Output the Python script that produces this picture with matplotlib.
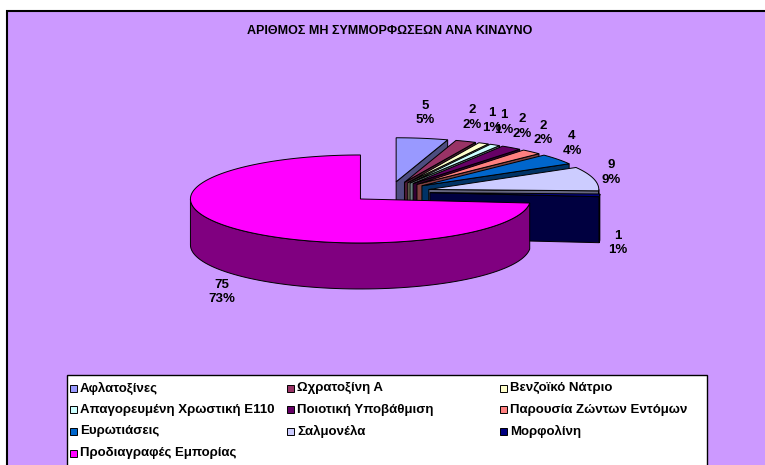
import numpy as np
import matplotlib.pyplot as plt
from matplotlib.patches import Polygon, Rectangle
from matplotlib.colors import to_rgb

plt.rcParams['font.family'] = ['Liberation Sans', 'DejaVu Sans']

title = "ΑΡΙΘΜΟΣ ΜΗ ΣΥΜΜΟΡΦΩΣΕΩΝ ΑΝΑ ΚΙΝΔΥΝΟ"
categories = ["Αφλατοξίνες", "Ωχρατοξίνη Α", "Βενζοϊκό Νάτριο",
              "Απαγορευμένη Χρωστική Ε110", "Ποιοτική Υποβάθμιση",
              "Παρουσία Ζώντων Εντόμων", "Ευρωτιάσεις", "Σαλμονέλα",
              "Μορφολίνη", "Προδιαγραφές Εμπορίας"]
values = [5, 2, 1, 1, 2, 2, 4, 9, 1, 75]
pct_labels = ["5%", "2%", "1%", "1%", "2%", "2%", "4%", "9%", "1%", "73%"]
colors = ["#9999FF", "#993366", "#FFFFCC", "#CCFFFF", "#660066",
          "#FF8080", "#0066CC", "#CCCCFF", "#000080", "#FF00FF"]

W, H = 765, 465
fig = plt.figure(figsize=(W / 100, H / 100), dpi=100)
ax = fig.add_axes([0, 0, 1, 1])
ax.set_xlim(0, W)
ax.set_ylim(H, 0)
ax.axis('off')

# chart area (runs off the right and bottom edge)
ax.add_patch(Rectangle((7, 11), 800, 500, fc='#CC99FF', ec='black', lw=1.5))
ax.text(390, 31, title, ha='center', va='center', fontsize=9, fontweight='bold')

# 3d pie layout (pixels)
cx, cy = 390, 192
rx, ry = 170, 44
depth = 46
explode = 40


def pt(c, t, z=0.0):
    return (c[0] + rx * np.sin(t), c[1] - ry * np.cos(t) + z)


def shade(col):
    return tuple(0.5 * v for v in to_rgb(col))


total = float(sum(values))
edges = np.concatenate([[0], np.cumsum(values)]) / total * 2 * np.pi
slices = []
for i, v in enumerate(values):
    a, b = edges[i], edges[i + 1]
    m = (a + b) / 2
    c = (cx + explode * np.sin(m), cy - explode * ry / rx * np.cos(m))
    slices.append((c[1], i, a, b, m, c))

ew = 0.7
for _, i, a, b, m, c in sorted(slices):
    col = colors[i]
    dark = shade(col)
    # radial faces
    if np.sin(a) < -1e-6:
        p = [c, pt(c, a), pt(c, a, depth), (c[0], c[1] + depth)]
        ax.add_patch(Polygon(p, closed=True, fc=dark, ec='black', lw=ew))
    if np.sin(b) > 1e-6:
        p = [c, pt(c, b), pt(c, b, depth), (c[0], c[1] + depth)]
        ax.add_patch(Polygon(p, closed=True, fc=dark, ec='black', lw=ew))
    # outer side
    t1, t2 = max(a, np.pi / 2), min(b, 3 * np.pi / 2)
    if t2 > t1:
        ts = np.linspace(t1, t2, 80)
        top = [pt(c, t) for t in ts]
        bot = [pt(c, t, depth) for t in ts[::-1]]
        ax.add_patch(Polygon(top + bot, closed=True, fc=dark, ec='black', lw=ew))
    # top face
    ts = np.linspace(a, b, max(4, int((b - a) * 60)))
    p = [c] + [pt(c, t) for t in ts]
    ax.add_patch(Polygon(p, closed=True, fc=col, ec='black', lw=ew))

# data labels
rxl, ryl = 228, 80
for _, i, a, b, m, c in slices:
    x = cx + rxl * np.sin(m)
    y = cy - ryl * np.cos(m) + (depth if np.cos(m) < 0 else 0)
    ax.text(x, y, f"{values[i]}\n{pct_labels[i]}", ha='center', va='center',
            fontsize=9.5, fontweight='bold', linespacing=1.3)

# legend
ax.add_patch(Rectangle((67, 375), 640, 120, fc='white', ec='black', lw=1))
col_x = [70, 287, 500]
for i, name in enumerate(categories):
    r, k = divmod(i, 3)
    y = 388 + 21.7 * r
    ax.add_patch(Rectangle((col_x[k], y - 3.5), 7, 7, fc=colors[i], ec='black', lw=0.7))
    ax.text(col_x[k] + 10, y, name, ha='left', va='center', fontsize=9.5, fontweight='bold')

fig.savefig('out.png', dpi=100)
